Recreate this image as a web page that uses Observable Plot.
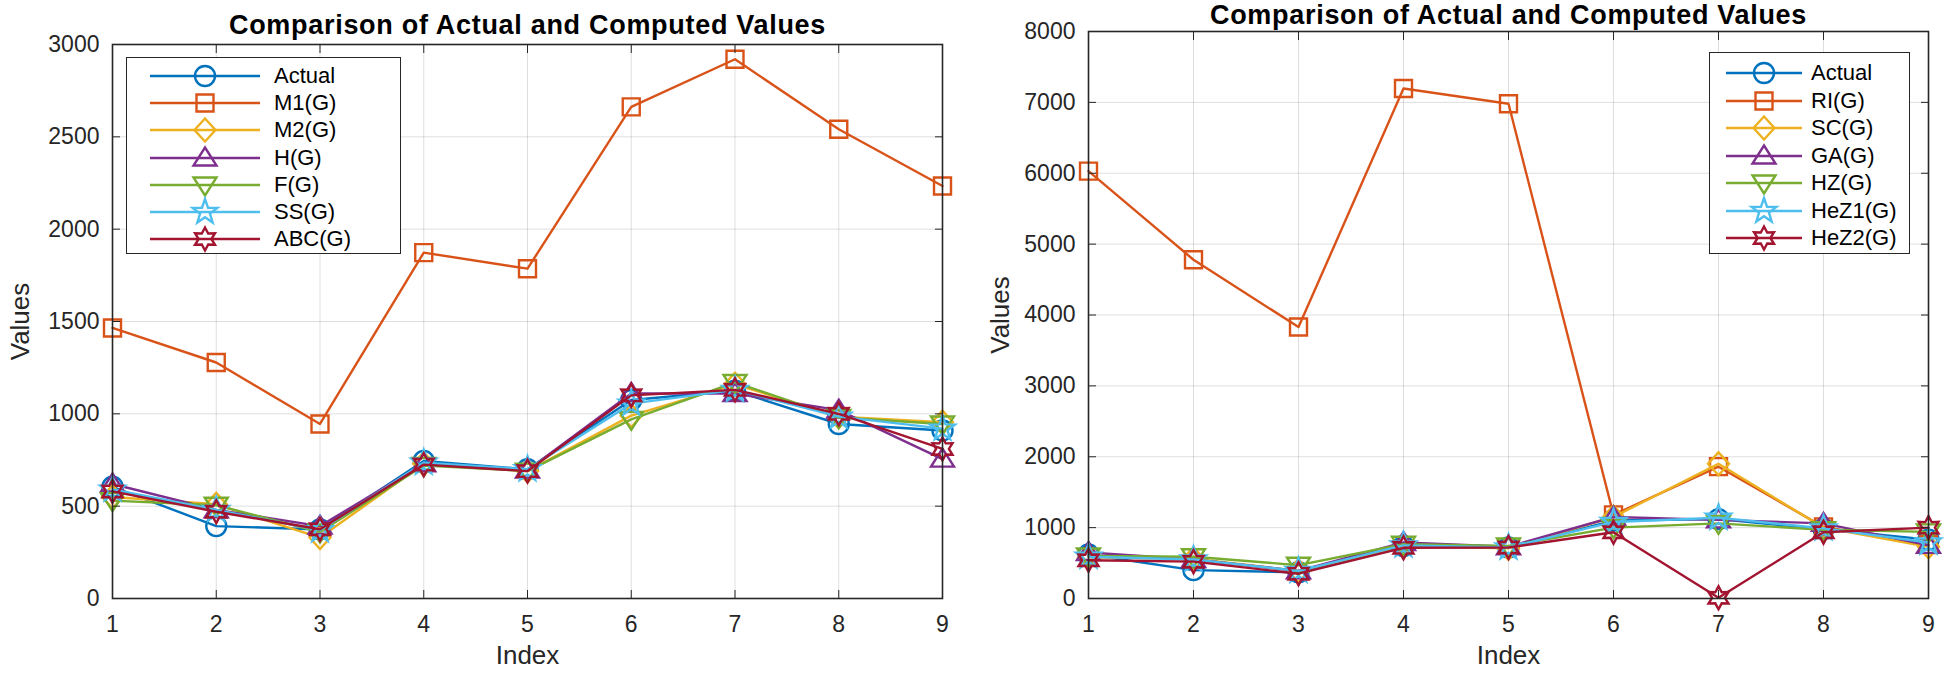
<!DOCTYPE html>
<html>
<head>
<meta charset="utf-8">
<script src="https://cdn.jsdelivr.net/npm/d3@7"></script>
<script src="https://cdn.jsdelivr.net/npm/@observablehq/plot@0.6"></script>
<style>
  html, body { margin: 0; padding: 0; background: #fff; }
  #wrap { position: relative; width: 1960px; height: 680px; background: #fff; font-family: "Liberation Sans", Arial, Helvetica, sans-serif; overflow: hidden; }
  .panel { position: absolute; top: 0; }
  .legend { position: absolute; background: #fff; border: 1.5px solid #262626; box-sizing: border-box; }
  .legend .row { position: absolute; left: 0; height: 26px; }
  .legend .row span { position: absolute; top: 0; line-height: 26px; font-size: 22px; color: #000; white-space: nowrap; }
</style>
</head>
<body>
<div id="wrap">
  <div id="left" class="panel" style="left:0px"></div>
  <div id="right" class="panel" style="left:980px"></div>
</div>
<script>
// ---------- data ----------
const idx = [1, 2, 3, 4, 5, 6, 7, 8, 9];
const leftYTicks = [0, 500, 1000, 1500, 2000, 2500, 3000];
const rightYTicks = [0, 1000, 2000, 3000, 4000, 5000, 6000, 7000, 8000];
const titleText = "Comparison of Actual and Computed Values";
const xLabel = "Index";
const yLabel = "Values";

const leftNames = ["Actual", "M1(G)", "M2(G)", "H(G)", "F(G)", "SS(G)", "ABC(G)"];
const leftActual = [605, 392, 374, 745, 700, 1075, 1125, 945, 910];
const leftM1     = [1465, 1278, 945, 1873, 1786, 2662, 2920, 2541, 2234];
const leftM2     = [550, 510, 330, 730, 690, 990, 1160, 985, 955];
const leftH      = [620, 480, 392, 730, 695, 1110, 1110, 1020, 755];
const leftF      = [530, 505, 360, 720, 690, 970, 1170, 980, 945];
const leftSS     = [590, 480, 370, 735, 700, 1055, 1130, 985, 920];
const leftABC    = [580, 470, 375, 725, 690, 1100, 1130, 1000, 810];

const rightNames = ["Actual", "RI(G)", "SC(G)", "GA(G)", "HZ(G)", "HeZ1(G)", "HeZ2(G)"];
const rightActual = [620, 400, 370, 740, 720, 1100, 1120, 980, 830];
const rightRI     = [6030, 4780, 3830, 7195, 6980, 1180, 1860, 1010, 760];
const rightSC     = [580, 560, 390, 740, 710, 1150, 1900, 1000, 730];
const rightGA     = [650, 550, 390, 790, 730, 1150, 1110, 1060, 750];
const rightHZ     = [600, 590, 470, 765, 740, 1000, 1060, 970, 940];
const rightHeZ1   = [590, 550, 390, 750, 720, 1080, 1140, 990, 790];
const rightHeZ2   = [540, 520, 350, 715, 720, 935, 10, 935, 1000];

const colors = ["#0072BD", "#D95319", "#EDB120", "#7E2F8E", "#77AC30", "#4DBEEE", "#A2142F"];
const markers = ["circle", "square", "diamond", "triangleUp", "triangleDown", "pentagram", "hexagram"];

// ---------- marker shapes ----------
function starPoly(ctx, n, ro, ri) {
  for (let k = 0; k < 2 * n; k++) {
    const r = k % 2 ? ri : ro;
    const a = -Math.PI / 2 + k * Math.PI / n;
    const px = r * Math.cos(a), py = r * Math.sin(a);
    if (k === 0) ctx.moveTo(px, py); else ctx.lineTo(px, py);
  }
  ctx.closePath();
}
function drawShape(name, ctx, R) {
  switch (name) {
    case "circle": ctx.moveTo(R, 0); ctx.arc(0, 0, R, 0, 2 * Math.PI); ctx.closePath(); break;
    case "square": { const s = R * 0.85; ctx.moveTo(-s, -s); ctx.lineTo(s, -s); ctx.lineTo(s, s); ctx.lineTo(-s, s); ctx.closePath(); break; }
    case "diamond": { const h = R * 1.15, w = R * 1.05; ctx.moveTo(0, -h); ctx.lineTo(w, 0); ctx.lineTo(0, h); ctx.lineTo(-w, 0); ctx.closePath(); break; }
    case "triangleUp": { ctx.moveTo(0, -R * 1.05); ctx.lineTo(R * 1.15, R * 0.75); ctx.lineTo(-R * 1.15, R * 0.75); ctx.closePath(); break; }
    case "triangleDown": { ctx.moveTo(0, R * 1.05); ctx.lineTo(R * 1.15, -R * 0.75); ctx.lineTo(-R * 1.15, -R * 0.75); ctx.closePath(); break; }
    case "pentagram": starPoly(ctx, 5, R * 1.3, R * 0.52); break;
    case "hexagram": starPoly(ctx, 6, R * 1.15, R * 0.64); break;
  }
}
function plotSymbol(name) {
  return { draw(ctx, size) { drawShape(name, ctx, Math.sqrt(size / Math.PI)); } };
}
function shapePath(name, R) {
  const p = d3.path();
  drawShape(name, p, R);
  return p.toString();
}

// ---------- panel ----------
const FONT = '"Liberation Sans", Arial, Helvetica, sans-serif';
const AX = "#262626";
const LW = 2.4;

function panel(el, names, series, yDomain, yTicks, margins) {
  const marks = [
    Plot.gridX(idx, { stroke: "#000", strokeOpacity: 0.13, strokeWidth: 1 }),
    Plot.gridY(yTicks, { stroke: "#000", strokeOpacity: 0.13, strokeWidth: 1 })
  ];
  series.forEach((vals, i) => {
    const data = idx.map((x, j) => ({ x, y: vals[j], s: names[i] }));
    marks.push(Plot.line(data, { x: "x", y: "y", stroke: colors[i], strokeWidth: LW }));
    marks.push(Plot.dot(data, { x: "x", y: "y", r: 10, symbol: plotSymbol(markers[i]), stroke: colors[i], fill: "none", strokeWidth: LW }));
  });
  marks.push(
    Plot.axisX(idx, { anchor: "bottom", tickSize: -8, tickPadding: 25, fontSize: 23, label: null, stroke: AX, fill: AX, tickFormat: d => String(d) }),
    Plot.axisX(idx, { anchor: "top", tickSize: -8, label: null, stroke: AX, tickFormat: () => "" }),
    Plot.axisY(yTicks, { anchor: "left", tickSize: -8, tickPadding: 21, fontSize: 23, label: null, stroke: AX, fill: AX, tickFormat: d => String(d) }),
    Plot.axisY(yTicks, { anchor: "right", tickSize: -8, label: null, stroke: AX, tickFormat: () => "" }),
    Plot.frame({ stroke: AX, strokeWidth: 1.6 }),
    Plot.text([titleText], { frameAnchor: "top", dy: margins.titleDy, fontSize: 27, fontWeight: "bold", fill: "#000", lineAnchor: "middle", textAnchor: "middle" }),
    Plot.text([xLabel], { frameAnchor: "bottom", dy: 57, fontSize: 26, fill: AX, lineAnchor: "middle" }),
    Plot.text([yLabel], { frameAnchor: "left", dx: margins.yLabelOffset, rotate: -90, fontSize: 26, fill: AX, lineAnchor: "middle", textAnchor: "middle" })
  );
  const chart = Plot.plot({
    width: 980,
    height: 680,
    marginLeft: margins.left,
    marginRight: margins.right,
    marginTop: margins.top,
    marginBottom: margins.bottom,
    x: { domain: [1, 9], axis: null },
    y: { domain: yDomain, axis: null },
    style: { fontFamily: FONT, background: "transparent", overflow: "visible" },
    marks
  });
  d3.select(chart).selectAll("text").filter(function () { return this.textContent === titleText; })
    .attr("letter-spacing", "0.7px");
  el.appendChild(chart);
}

panel(document.getElementById("left"), leftNames,
  [leftActual, leftM1, leftM2, leftH, leftF, leftSS, leftABC],
  [0, 3000], leftYTicks,
  { left: 112, right: 38, top: 44, bottom: 82, yLabelOffset: -92, titleDy: -19 });

panel(document.getElementById("right"), rightNames,
  [rightActual, rightRI, rightSC, rightGA, rightHZ, rightHeZ1, rightHeZ2],
  [0, 8000], rightYTicks,
  { left: 108, right: 32, top: 31, bottom: 82, yLabelOffset: -88, titleDy: -16 });

// ---------- legends ----------
function legend(names, box) {
  const lg = d3.select("#wrap").append("div").attr("class", "legend")
    .style("left", box.left + "px").style("top", box.top + "px")
    .style("width", box.width + "px").style("height", box.height + "px");
  names.forEach((n, i) => {
    const row = lg.append("div").attr("class", "row")
      .style("top", (box.first + i * box.step - 13) + "px")
      .style("width", box.width + "px");
    const svg = row.append("svg").attr("width", box.textX).attr("height", 26)
      .style("position", "absolute").style("left", "0px").style("top", "0px").style("overflow", "visible");
    svg.append("line").attr("x1", box.lineX1).attr("x2", box.lineX2).attr("y1", 13).attr("y2", 13)
      .attr("stroke", colors[i]).attr("stroke-width", LW);
    svg.append("path").attr("d", shapePath(markers[i], 10)).attr("transform", `translate(${box.markX},13)`)
      .attr("fill", "none").attr("stroke", colors[i]).attr("stroke-width", LW);
    row.append("span").style("left", box.textX + "px").text(n);
  });
}
legend(leftNames, { left: 126, top: 57, width: 275, height: 197, first: 18, step: 27.2, lineX1: 23, lineX2: 133, markX: 78, textX: 147 });
legend(rightNames, { left: 1709, top: 52, width: 201, height: 202, first: 20, step: 27.5, lineX1: 16, lineX2: 92, markX: 54, textX: 101 });
</script>
</body>
</html>
